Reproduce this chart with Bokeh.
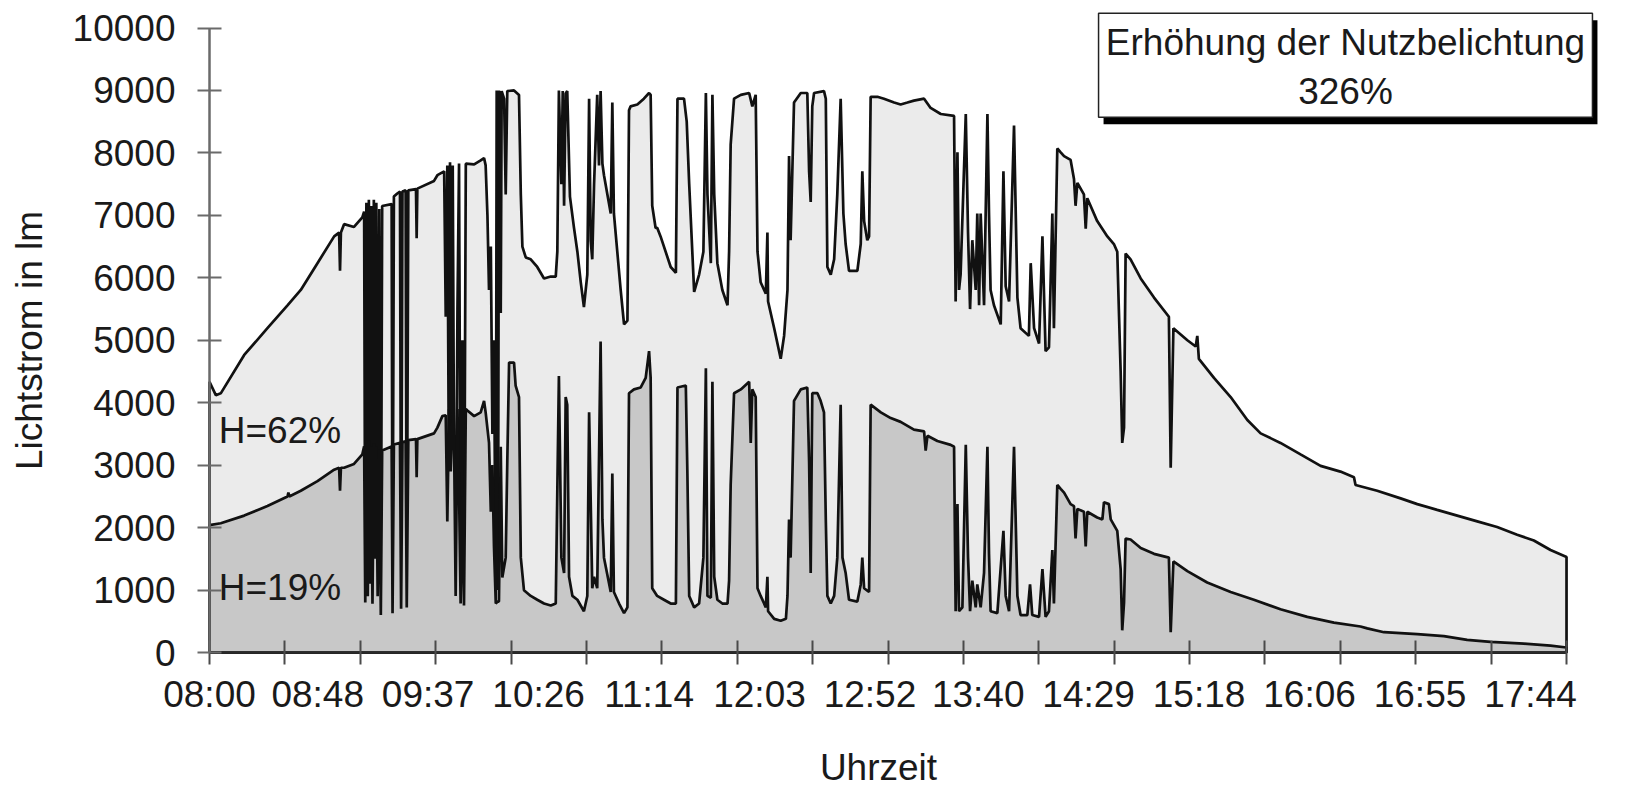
import math
from bokeh.plotting import figure
from bokeh.models import FixedTicker, Range1d
from bokeh.embed import file_html
from bokeh.resources import INLINE
from bokeh.core.properties import value

# ---------------- data (minutes after 08:00, luminous flux in lm) ----------------
upper_points = [
    (0, 4336), (2.8, 4121), (5, 4150), (15.4, 4764), (25.7, 5193), (34.6, 5560), (40.5, 5805),
    (47.9, 6234), (55.3, 6663), (57.5, 6724), (57.9, 6112), (58.3, 6724), (59.7, 6859), (64.1, 6814),
    (67.8, 6969), (68.6, 7061), (69.1, 800), (69.6, 7200), (70.2, 900), (70.7, 7250), (71.2, 1100),
    (71.7, 7150), (72.3, 780), (72.9, 7250), (73.5, 1500), (74.0, 7200), (74.6, 900), (75.3, 7100),
    (76.0, 600), (76.6, 7150), (80.8, 7180), (81.2, 630), (81.8, 7300), (83.3, 7350), (84.5, 7380),
    (85.0, 700), (85.6, 7380), (87.0, 7400), (87.5, 720), (88.2, 7400), (91.6, 7420), (91.9, 6632),
    (92.2, 7428), (99.6, 7551), (101.1, 7643), (104.1, 7704), (104.8, 5377), (105.5, 7800),
    (106.3, 2100), (106.7, 7850), (107.3, 1200), (107.9, 7800), (108.5, 3000), (109.2, 906),
    (110.0, 5500), (110.7, 7830), (111.4, 1200), (112.2, 5000), (112.9, 753), (113.7, 7827),
    (117.4, 7815), (120.3, 7880), (121.8, 7918), (122.5, 7800), (123.3, 7000), (124.0, 5805),
    (124.8, 6500), (125.5, 3500), (126.2, 5000), (127.0, 784), (127.4, 9000), (128.0, 1000),
    (128.4, 9000), (129.2, 5438), (129.6, 8990), (130.7, 8868), (131.4, 7336), (132.1, 8990),
    (135.1, 9000), (137.3, 8929), (138.1, 7336), (138.8, 6500), (140.3, 6326), (142.5, 6296),
    (145.4, 6173), (148.4, 5989), (151.4, 6020), (153.6, 6020), (154.3, 6418), (155.0, 9000),
    (156.1, 7500), (156.7, 8990), (157.3, 7153), (158.0, 8950), (158.7, 8990), (159.9, 7300),
    (161.7, 6800), (163.2, 6418), (164.7, 5928), (166.1, 5530), (167.6, 6051), (168.4, 8868),
    (169.1, 6600), (169.8, 6296), (170.6, 7500), (172.0, 8929), (172.8, 7800), (173.5, 8990),
    (174.3, 7827), (175.0, 7643), (178.0, 7030), (178.7, 8806), (179.4, 7030), (180.9, 6418),
    (182.4, 5805), (183.9, 5254), (185.4, 5315), (186.1, 8684), (186.8, 8745), (189.8, 8776),
    (192.7, 8868), (195.0, 8959), (195.7, 8929), (196.4, 7153), (197.9, 6798), (198.6, 6800),
    (200.1, 6663), (204.6, 6173), (206.9, 6081), (207.6, 8868), (210.5, 8868), (211.7, 8500),
    (212.8, 7500), (215.0, 5774), (217.2, 6051), (219.1, 6418), (220.2, 8959), (220.9, 7336),
    (222.4, 6234), (223.1, 8929), (223.9, 7336), (225.3, 6234), (227.5, 5805), (229.8, 5560),
    (230.5, 6418), (231.2, 8133), (232.7, 8868), (235.7, 8929), (239.4, 8959), (240.8, 8745),
    (242.3, 8929), (243.1, 6418), (244.5, 5928), (246.8, 5744), (247.5, 6724), (247.8, 5620),
    (250.5, 5193), (253.4, 4703), (254.9, 5070), (256.4, 5805), (257.1, 7949), (257.8, 6602),
    (259.3, 8806), (262.3, 8959), (265.2, 8959), (266.0, 7704), (266.7, 7214), (267.4, 8745),
    (268.2, 8959), (272.6, 8990), (273.4, 8868), (274.1, 6173), (275.6, 6051), (277.1, 6296),
    (278.5, 7336), (280.0, 8868), (281.2, 7030), (282.2, 6541), (283.7, 6112), (287.4, 6112),
    (288.9, 6541), (289.6, 7704), (290.4, 6908), (291.8, 6602), (292.6, 6663), (293.3, 8898),
    (296.3, 8898), (299.2, 8868), (303.7, 8806), (306.6, 8776), (309.6, 8806), (312.5, 8837),
    (317.0, 8868), (319.9, 8720), (324.4, 8623), (330.3, 8592), (331.0, 5622), (331.8, 8010),
    (332.5, 5805), (333.2, 6051), (335.5, 8623), (336.5, 6724), (337.4, 5499), (338.4, 6602),
    (339.9, 5805), (340.6, 7030), (341.4, 5560), (342.1, 7030), (343.6, 5560), (345.1, 8623),
    (345.8, 7030), (346.5, 5805), (348.0, 5560), (351.0, 5254), (352.2, 7704), (353.2, 5866),
    (354.7, 5622), (356.9, 8439), (358.4, 5683), (359.8, 5193), (363.5, 5070), (364.3, 6234),
    (365.8, 5193), (368.0, 4948), (369.5, 6663), (370.9, 4826), (372.4, 4887), (373.9, 7030),
    (374.6, 5193), (376.1, 8072), (377.6, 8010), (379.1, 7949), (382.0, 7888), (383.5, 7582),
    (384.2, 7153), (385.0, 7520), (387.9, 7336), (388.7, 6785), (389.4, 7275), (393.8, 6908),
    (398.3, 6663), (401.2, 6541), (402.7, 6418), (403.4, 5500), (404.2, 4500), (404.9, 3356),
    (405.7, 3600), (406.4, 6387), (408.6, 6296), (413.1, 5989), (419.0, 5683), (425.6, 5377),
    (426.4, 2958), (427.6, 5193), (433.8, 5000), (437.5, 4900), (438.2, 5070), (438.9, 4703),
    (445.6, 4397), (453.0, 4091), (460.4, 3723), (466.3, 3509), (475.1, 3356), (484.0, 3172),
    (492.9, 2989), (501.7, 2897), (507.7, 2805), (508.4, 2682), (518.0, 2590), (528.4, 2468),
    (535.8, 2376), (544.6, 2284), (553.5, 2192), (562.4, 2100), (571.2, 2009), (580.1, 1886),
    (587.5, 1794), (594.9, 1641), (602.0, 1531),
]

lower_points = [
    (0, 2039), (5, 2070), (15.4, 2192), (25.7, 2345), (34.6, 2499), (35.0, 2560), (35.4, 2499),
    (40.5, 2590), (47.9, 2744), (55.3, 2927), (57.5, 2958), (57.9, 2590), (58.3, 2958), (59.7, 2958),
    (64.1, 3019), (67.8, 3172), (68.6, 3300), (69.1, 800), (69.6, 3350), (70.2, 900), (70.7, 3400),
    (71.2, 1100), (71.7, 3300), (72.3, 780), (72.9, 3350), (73.5, 1500), (74.0, 3300), (74.6, 900),
    (75.3, 3250), (76.0, 600), (76.6, 3233), (80.8, 3300), (81.2, 630), (81.8, 3330), (84.5, 3356),
    (85.0, 700), (85.6, 3370), (87.0, 3380), (87.5, 720), (88.2, 3400), (91.6, 3417), (91.9, 2805),
    (92.2, 3417), (99.6, 3509), (101.1, 3601), (103.3, 3785), (104.8, 3800), (105.5, 2100),
    (106.3, 3900), (107.0, 2900), (107.9, 3850), (108.5, 3356), (109.2, 906), (110.0, 3900),
    (110.7, 2600), (111.4, 784), (112.2, 2500), (112.9, 753), (113.7, 3900), (114.4, 3876),
    (117.4, 3785), (120.3, 3846), (121.8, 4030), (122.5, 3846), (124.0, 3356), (124.8, 2254),
    (125.5, 3000), (126.2, 1700), (127.0, 784), (127.7, 815), (128.4, 815), (129.2, 3295),
    (129.9, 1200), (131.4, 1519), (132.1, 3050), (132.9, 4642), (135.1, 4642), (135.8, 4275),
    (137.3, 4091), (138.1, 1519), (139.5, 998), (142.5, 906), (145.4, 845), (148.4, 784),
    (151.4, 753), (153.6, 784), (155.0, 4428), (156.1, 1519), (157.3, 1274), (158.0, 4091),
    (158.7, 3968), (159.5, 1213), (161.0, 906), (163.2, 845), (166.1, 661), (167.6, 906),
    (168.4, 3846), (169.8, 1029), (170.6, 1213), (172.0, 1029), (173.5, 4979), (174.3, 2131),
    (175.0, 1519), (178.0, 968), (178.7, 2866), (179.4, 968), (181.7, 784), (183.9, 631),
    (185.4, 723), (186.1, 4152), (188.3, 4213), (191.3, 4244), (193.5, 4397), (195.0, 4826),
    (195.7, 4397), (196.4, 1029), (198.6, 906), (201.6, 845), (204.6, 784), (206.9, 784),
    (207.6, 4244), (211.3, 4275), (212.0, 2866), (212.8, 906), (215.0, 723), (217.2, 784),
    (219.1, 1519), (220.2, 4550), (220.9, 906), (222.4, 876), (223.1, 4336), (223.9, 1213),
    (225.3, 845), (227.5, 784), (229.8, 784), (230.5, 1152), (231.2, 2682), (232.7, 4152),
    (235.7, 4213), (239.4, 4336), (240.1, 3356), (240.8, 4213), (242.3, 4091), (243.1, 1029),
    (244.5, 906), (246.8, 723), (247.5, 1213), (247.8, 661), (250.5, 539), (253.4, 508),
    (255.7, 539), (256.4, 906), (257.1, 2131), (257.8, 1519), (259.3, 4030), (262.3, 4213),
    (265.2, 4244), (266.0, 3050), (266.7, 1274), (267.4, 4152), (269.7, 4152), (271.1, 4030),
    (272.6, 3846), (273.4, 2131), (274.1, 906), (275.6, 784), (277.1, 906), (278.5, 1519),
    (280.0, 3968), (280.8, 1519), (282.2, 1274), (283.7, 845), (287.4, 815), (288.9, 1090),
    (289.6, 1519), (290.4, 1029), (292.6, 968), (293.3, 3968), (297.8, 3846), (302.2, 3754),
    (306.6, 3693), (312.5, 3570), (317.0, 3540), (317.7, 3233), (318.5, 3470), (322.9, 3387),
    (328.8, 3325), (330.3, 3295), (331.0, 661), (331.8, 2376), (332.5, 661), (334.0, 723),
    (335.5, 3325), (336.5, 1519), (337.4, 661), (338.4, 1152), (339.9, 723), (340.6, 1090),
    (342.1, 723), (343.6, 1274), (345.1, 3295), (345.8, 1580), (346.5, 661), (349.5, 631),
    (352.2, 1947), (353.2, 906), (354.7, 661), (356.9, 3295), (358.4, 906), (359.8, 600),
    (362.8, 600), (364.0, 1090), (365.0, 600), (368.0, 570), (369.5, 1335), (370.9, 570),
    (372.4, 661), (373.9, 1641), (374.6, 784), (376.1, 2682), (377.6, 2620), (379.1, 2560),
    (382.0, 2376), (383.5, 2345), (384.2, 1825), (385.0, 2300), (387.9, 2254), (388.7, 1700),
    (389.4, 2254), (393.8, 2162), (396.1, 2131), (396.8, 2407), (399.0, 2376), (399.8, 2131),
    (402.7, 1947), (404.2, 1335), (404.9, 355), (405.7, 800), (406.4, 1825), (408.6, 1810),
    (413.1, 1672), (419.0, 1580), (425.6, 1519), (426.4, 325), (427.6, 1458), (433.8, 1304),
    (442.6, 1121), (453.0, 968), (463.3, 845), (475.1, 692), (487.0, 570), (498.8, 478),
    (510.6, 416), (513.6, 386), (521.0, 325), (535.8, 294), (547.6, 263), (557.9, 202),
    (568.3, 171), (583.1, 141), (594.9, 110), (602.0, 80),
]

tick_labels = ["08:00", "08:48", "09:37", "10:26", "11:14", "12:03", "12:52",
               "13:40", "14:29", "15:18", "16:06", "16:55", "17:44"]
y_ticks = [0, 1000, 2000, 3000, 4000, 5000, 6000, 7000, 8000, 9000, 10000]
series_names = ["H=62%", "H=19%"]
box_lines = ["Erhöhung der Nutzbelichtung", "326%"]
x_title = "Uhrzeit"
y_title = "Lichtstrom in lm"

# ---------------- layout constants ----------------
FONT = "Liberation Sans"
FS = "37px"
TXT = "#1a1a1a"
T_END = 602.0
PX_MIN = 2.2542        # pixels per minute
PX_LM = 0.06245        # pixels per lm
W, H = 1640, 788
AX_X, AX_Y = 209, 652  # canvas position of the axes origin

# the frame covers the whole canvas; axes are pinned at the origin
p = figure(width=W, height=H, output_backend="svg", toolbar_location=None,
           x_range=Range1d(-AX_X / PX_MIN, (W - AX_X) / PX_MIN),
           y_range=Range1d(-(H - AX_Y) / PX_LM, AX_Y / PX_LM),
           min_border=0)
p.outline_line_color = None
p.xgrid.grid_line_color = None
p.ygrid.grid_line_color = None
p.background_fill_color = "white"
p.border_fill_color = "white"

ut = [a for a, b in upper_points]
uv = [b for a, b in upper_points]
lt = [a for a, b in lower_points]
lv = [b for a, b in lower_points]

p.patch([0] + ut + [ut[-1]], [0] + uv + [0], fill_color="#ebebeb",
        line_color="#111111", line_width=2.7)
p.patch([0] + lt + [lt[-1]], [0] + lv + [0], fill_color="#c8c8c8",
        line_color="#111111", line_width=2.7)

# series labels
p.text(x=[4.1, 4.1], y=[3555, 1044], text=series_names, text_font=value(FONT),
       text_font_size=FS, text_color=TXT, text_align="left", text_baseline="middle")

# info box with shadow
bl, br = 394.4, 613.5
bt, bb = 10237, 8572
sx, sy = 5 / PX_MIN, 7 / PX_LM
p.quad(left=[bl + sx], right=[br + sx], top=[bt - sy], bottom=[bb - sy],
       fill_color="#000000", line_color=None)
p.quad(left=[bl], right=[br], top=[bt], bottom=[bb], fill_color="white",
       line_color="#222222", line_width=1.5)
p.text(x=[(bl + br) / 2, (bl + br) / 2], y=[9773, 8991], text=box_lines,
       text_font=value(FONT), text_font_size=FS, text_color=TXT,
       text_align="center", text_baseline="middle")

# axis titles
p.text(x=[-180 / PX_MIN], y=[(AX_Y - 340) / PX_LM], text=[y_title], angle=math.pi / 2,
       text_font=value(FONT), text_font_size=FS, text_color=TXT,
       text_align="center", text_baseline="middle")
p.text(x=[(878 - AX_X) / PX_MIN], y=[(AX_Y - 767) / PX_LM], text=[x_title],
       text_font=value(FONT), text_font_size=FS, text_color=TXT,
       text_align="center", text_baseline="middle")

# y axis
ya = p.yaxis[0]
ya.fixed_location = 0
ya.ticker = FixedTicker(ticks=y_ticks, minor_ticks=[])
ya.bounds = (0, 10000)
ya.axis_line_color = "#6a6a6a"
ya.axis_line_width = 2.5
ya.major_tick_line_color = "#6a6a6a"
ya.major_tick_line_width = 2
ya.major_tick_in = 12
ya.major_tick_out = 12
ya.minor_tick_line_color = None
ya.major_label_text_font = FONT
ya.major_label_text_font_size = FS
ya.major_label_text_color = TXT
ya.major_label_standoff = 22

# x axis: labels at their clock times, tick marks every 1/18 of the day span
def _mins(s):
    h, m = s.split(":")
    return int(h) * 60 + int(m) - 480

label_pos = [round(_mins(s) * T_END / 600) for s in tick_labels]
tick_pos = [k * T_END / 18 for k in range(19)]
xa = p.xaxis[0]
xa.fixed_location = 0
xa.ticker = FixedTicker(ticks=label_pos, minor_ticks=tick_pos)
xa.major_label_overrides = {pos: lab for pos, lab in zip(label_pos, tick_labels)}
xa.bounds = (0, T_END)
xa.axis_line_color = "#2a2a2a"
xa.axis_line_width = 2.5
xa.major_tick_in = 0
xa.major_tick_out = 0
xa.major_tick_line_color = None
xa.minor_tick_in = 12
xa.minor_tick_out = 12
xa.minor_tick_line_color = "#4a4a4a"
xa.minor_tick_line_width = 2
xa.major_label_text_font = FONT
xa.major_label_text_font_size = FS
xa.major_label_text_color = TXT
xa.major_label_standoff = 9

open("out.html", "w").write(file_html(p, INLINE))
